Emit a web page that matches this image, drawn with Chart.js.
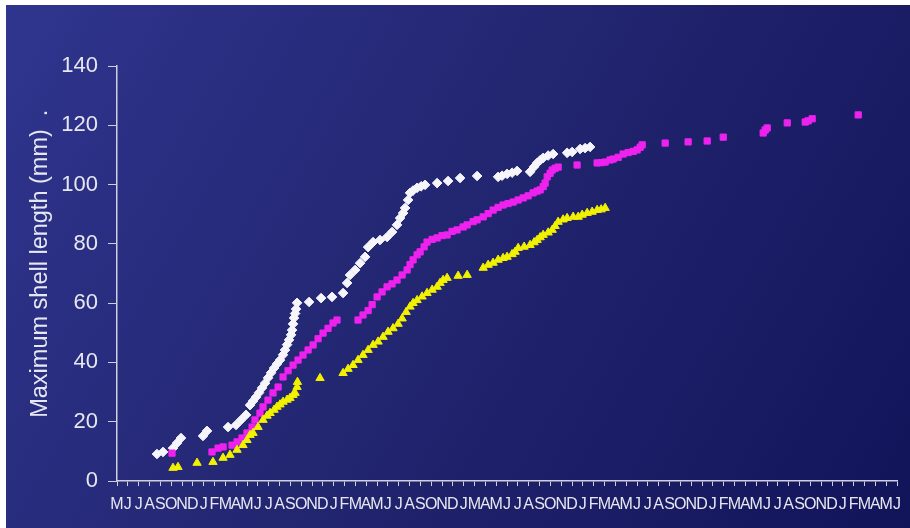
<!DOCTYPE html>
<html>
<head>
<meta charset="utf-8">
<title>Maximum shell length</title>
<script src="https://cdn.jsdelivr.net/npm/chart.js@4.4.1/dist/chart.umd.min.js"></script>
<style>
    html, body { margin: 0; padding: 0; background: #ffffff; }
    #grafico { display: block; }
</style>
</head>
<body>
<canvas id="grafico" width="910" height="528"></canvas>
<script>
// --- DATA ---
// x = months since the first label (May of year 1), y = maximum shell length (mm)

const monthLabels = [
    'M', 'J', 'J', 'A', 'S', 'O', 'N', 'D',
    'J', 'F', 'M', 'A', 'M', 'J', 'J', 'A', 'S', 'O', 'N', 'D',
    'J', 'F', 'M', 'A', 'M', 'J', 'J', 'A', 'S', 'O', 'N', 'D',
    'J', 'M', 'A', 'M', 'J', 'J', 'A', 'S', 'O', 'N', 'D',
    'J', 'F', 'M', 'A', 'M', 'J', 'J', 'A', 'S', 'O', 'N', 'D',
    'J', 'F', 'M', 'A', 'M', 'J', 'J', 'A', 'S', 'O', 'N', 'D',
    'J', 'F', 'M', 'A', 'M', 'J'
];

const yTicks = [0, 20, 40, 60, 80, 100, 120, 140];

// white diamonds
const whiteMonths = [
    3.69, 4.25, 5.17, 5.54, 5.91, 7.94, 8.31, 10.25, 10.99, 11.45, 11.91, 12.28, 12.56, 12.83,
    13.11, 13.39, 13.67, 13.94, 14.22, 14.50, 14.77, 15.05, 15.33, 15.51, 15.70, 15.88, 16.07,
    16.16, 16.25, 16.34, 16.44, 16.53, 16.62, 17.73, 18.84, 19.85, 20.87, 21.24, 21.51, 21.98,
    22.44, 22.90, 23.18, 23.64, 24.28, 24.93, 25.39, 25.85, 26.13, 26.41, 26.59, 26.87, 27.05,
    27.33, 27.70, 28.07, 28.44, 29.55, 30.56, 31.67, 33.24, 35.18, 35.55, 36.01, 36.47, 36.93,
    38.13, 38.50, 38.78, 39.06, 39.34, 39.80, 40.26, 41.55, 42.01, 42.75, 43.21, 43.67
];
const whiteLengths = [
    9.1, 9.8, 11.1, 12.8, 14.5, 15.2, 16.9, 18.2, 18.9, 20.6, 22.3, 25.6, 27.0, 28.3,
    29.8, 31.4, 33.0, 34.8, 36.5, 38.1, 39.5, 40.8, 42.6, 44.2, 46.0, 47.6, 49.3,
    50.9, 53.0, 55.0, 56.5, 58.0, 60.1, 60.4, 61.7, 62.1, 63.4, 66.8, 69.5, 71.2,
    73.5, 75.6, 78.9, 80.6, 81.3, 82.3, 84.0, 86.4, 88.7, 90.4, 92.1, 94.8, 97.2,
    98.0, 98.9, 99.4, 99.9, 100.5, 101.2, 102.2, 102.9, 102.6, 103.0, 103.6, 104.0, 104.6,
    104.3, 106.0, 107.3, 108.2, 109.0, 109.8, 110.3, 110.7, 111.0, 112.0, 112.3, 112.7
];

// magenta squares
const magentaMonths = [
    5.08, 8.77, 9.33, 9.79, 10.62, 11.08, 11.54, 12.00, 12.47, 12.74, 13.20, 13.48, 13.94,
    14.40, 14.87, 15.33, 15.79, 16.25, 16.71, 17.17, 17.64, 18.10, 18.56, 19.02, 19.48, 19.94,
    20.31, 22.25, 22.71, 23.18, 23.55, 24.01, 24.47, 24.93, 25.39, 25.85, 26.32, 26.78, 27.05,
    27.33, 27.70, 27.98, 28.35, 28.62, 29.09, 29.55, 30.01, 30.47, 30.93, 31.39, 31.95, 32.32,
    32.87, 33.24, 33.80, 34.26, 34.72, 35.18, 35.64, 36.10, 36.57, 37.03, 37.49, 37.95, 38.41,
    38.78, 39.06, 39.34, 39.52, 39.71, 39.98, 40.17, 40.44, 40.72, 42.47, 44.32, 44.69, 45.06,
    45.52, 45.80, 46.26, 46.72, 47.18, 47.65, 48.01, 48.29, 48.48, 50.60, 52.72, 54.48, 55.96,
    59.65, 59.83, 60.02, 61.87, 63.53, 63.80, 64.17, 68.42
];
const magentaLengths = [
    9.4, 9.8, 11.1, 11.5, 12.1, 13.2, 14.5, 16.2, 18.2, 20.6, 22.9, 25.0, 27.3,
    29.7, 31.7, 35.1, 37.2, 39.1, 40.8, 42.5, 44.2, 45.9, 48.0, 49.9, 51.5, 53.3,
    54.3, 54.3, 56.0, 57.5, 59.5, 62.1, 63.8, 65.5, 66.5, 67.8, 69.5, 71.2, 73.0,
    74.6, 76.3, 77.3, 79.0, 80.6, 81.5, 82.0, 82.8, 83.0, 84.2, 84.7, 85.7, 86.4,
    87.5, 88.1, 89.1, 90.2, 91.4, 92.3, 93.1, 93.6, 94.1, 94.8, 95.5, 96.2, 97.2,
    97.8, 98.2, 99.3, 100.5, 102.6, 103.8, 104.9, 105.5, 105.9, 106.6, 107.3, 107.4, 107.6,
    108.3, 108.6, 109.2, 110.3, 110.8, 111.2, 111.7, 112.6, 113.4, 114.0, 114.4, 114.7, 116.0,
    117.4, 118.4, 119.1, 120.8, 121.1, 121.5, 122.2, 123.5
];

// yellow triangles
const yellowMonths = [
    5.17, 5.63, 7.39, 8.86, 9.79, 10.43, 11.08, 11.63, 12.00, 12.28, 12.56, 13.02, 13.48,
    13.85, 14.13, 14.50, 14.77, 15.05, 15.33, 15.70, 15.97, 16.25, 16.44, 16.62, 16.66, 18.74,
    20.87, 21.33, 21.79, 22.25, 22.71, 23.18, 23.64, 24.10, 24.56, 25.02, 25.48, 25.95, 26.32,
    26.69, 27.05, 27.33, 27.70, 28.16, 28.62, 29.09, 29.55, 29.82, 30.10, 30.47, 31.49, 32.32,
    33.80, 34.26, 34.72, 35.18, 35.64, 36.01, 36.47, 36.75, 37.03, 37.58, 38.13, 38.50, 38.78,
    39.06, 39.34, 39.80, 40.17, 40.44, 40.72, 41.18, 41.55, 42.11, 42.57, 42.94, 43.40, 43.86,
    44.32, 44.69, 45.06
];
const yellowLengths = [
    4.4, 4.7, 6.1, 6.4, 7.8, 8.8, 10.5, 12.1, 13.8, 15.5, 16.2, 18.2, 20.6,
    22.0, 22.9, 24.0, 25.0, 25.8, 26.7, 27.4, 28.0, 29.0, 29.7, 31.7, 33.4, 34.7,
    36.4, 37.8, 39.1, 40.8, 42.5, 44.2, 45.9, 47.0, 48.6, 50.3, 51.5, 53.0, 54.8,
    57.0, 58.8, 60.0, 61.0, 62.2, 63.4, 64.5, 65.5, 66.8, 67.8, 68.5, 69.2, 69.5,
    71.9, 72.9, 73.6, 74.6, 75.2, 75.6, 76.5, 77.3, 78.6, 79.0, 79.6, 80.5, 81.3,
    82.2, 83.0, 83.8, 84.7, 86.0, 87.4, 88.2, 88.7, 89.1, 89.1, 89.8, 90.4, 90.8,
    91.4, 91.6, 92.1
];

document.addEventListener('DOMContentLoaded', () => {

    const corTexto = '#e6e7f0';
    const corEixo = '#cfd0de';
    const fonte = "'Liberation Sans', Arial, sans-serif";

    const pontos = (xs, ys) => xs.map((x, i) => ({ x: x, y: ys[i] }));

    // gradient background with thin white border on top/left
    const fundo = {
        id: 'fundo',
        beforeDraw(chart) {
            const { ctx, width, height } = chart;
            ctx.save();
            ctx.fillStyle = '#ffffff';
            ctx.fillRect(0, 0, width, height);
            const g = ctx.createLinearGradient(0, 0, width, height);
            g.addColorStop(0, '#30358f');
            g.addColorStop(0.5, '#22256f');
            g.addColorStop(1, '#12145a');
            ctx.fillStyle = g;
            ctx.fillRect(6, 5, width - 6, height - 5);
            ctx.restore();
        }
    };

    new Chart(document.getElementById('grafico'), {
        type: 'scatter',
        data: {
            datasets: [
                {
                    label: 'yellow',
                    data: pontos(yellowMonths, yellowLengths),
                    pointStyle: 'triangle',
                    radius: 4.8,
                    backgroundColor: '#f2f200',
                    borderColor: '#f2f200',
                    borderWidth: 1
                },
                {
                    label: 'magenta',
                    data: pontos(magentaMonths, magentaLengths),
                    pointStyle: 'rect',
                    radius: 4.4,
                    backgroundColor: '#ee22ee',
                    borderColor: '#ee22ee',
                    borderWidth: 1
                },
                {
                    label: 'white',
                    data: pontos(whiteMonths, whiteLengths),
                    pointStyle: 'rectRot',
                    radius: 4.8,
                    backgroundColor: '#f6f6fa',
                    borderColor: '#f6f6fa',
                    borderWidth: 1
                }
            ]
        },
        options: {
            responsive: false,
            animation: false,
            layout: { padding: { left: 0, top: 66, right: 13, bottom: 0 } },
            plugins: {
                legend: { display: false },
                tooltip: { enabled: false }
            },
            scales: {
                x: {
                    type: 'linear',
                    min: 0,
                    max: monthLabels.length - 1,
                    afterFit: (scale) => { scale.height = 47; },
                    afterBuildTicks: (scale) => {
                        scale.ticks = monthLabels.map((_, i) => ({ value: i }));
                    },
                    ticks: {
                        autoSkip: false,
                        maxRotation: 0,
                        minRotation: 0,
                        padding: 9,
                        color: corTexto,
                        font: { family: fonte, size: 16 },
                        callback: (value) => monthLabels[value] || ''
                    },
                    grid: { drawOnChartArea: false, tickLength: 5, color: corEixo, lineWidth: 1 },
                    border: { color: corEixo, width: 1.5 }
                },
                y: {
                    min: 0,
                    max: 140,
                    afterFit: (scale) => { scale.width = 117; },
                    afterBuildTicks: (scale) => {
                        scale.ticks = yTicks.map(v => ({ value: v }));
                    },
                    ticks: {
                        padding: 10,
                        color: corTexto,
                        font: { family: fonte, size: 22 }
                    },
                    grid: { drawOnChartArea: false, tickLength: 9, color: corEixo, lineWidth: 1 },
                    border: { color: corEixo, width: 1.5 },
                    title: {
                        display: true,
                        // leading spaces nudge the visible text upward, as in the original
                        text: '\u00a0\u00a0\u00a0Maximum shell length (mm)  .',
                        color: corTexto,
                        font: { family: fonte, size: 23.5 },
                        padding: { top: 26, bottom: 0 }
                    }
                }
            }
        },
        plugins: [fundo]
    });
});
</script>
</body>
</html>
